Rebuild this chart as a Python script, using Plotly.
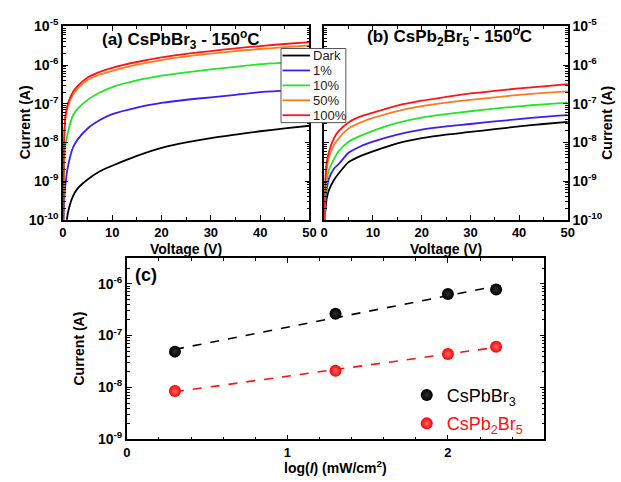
import numpy as np
import plotly.graph_objects as go

# ---------------- data ----------------
voltage = [0.05, 0.2, 0.5, 1, 2, 3, 5, 7.5, 10, 15, 20, 25, 30, 35, 40, 45, 50]
series_names = ["Dark", "1%", "10%", "50%", "100%"]
series_colors = ["#000000", "#3d1df5", "#22e622", "#ff7a1a", "#ff1414"]

a_dark = [2e-11, 3e-11, 5e-11, 1.5e-10, 4e-10, 6.5e-10, 1.1e-9, 1.8e-9, 2.5e-9, 4.5e-9, 7.2e-9, 1e-8, 1.3e-8, 1.6e-8, 1.95e-8, 2.3e-8, 2.7e-8]
a_1 = [3e-11, 2e-10, 8e-10, 2.3e-9, 7.2e-9, 1.2e-8, 2.3e-8, 3.8e-8, 5.4e-8, 8e-8, 1.05e-7, 1.27e-7, 1.47e-7, 1.7e-7, 2.0e-7, 2.2e-7, 2.4e-7]
a_10 = [5e-11, 1.5e-9, 8e-9, 1.8e-8, 4.9e-8, 7.5e-8, 1.26e-7, 1.95e-7, 2.7e-7, 4e-7, 5.3e-7, 6.5e-7, 7.7e-7, 9e-7, 1.05e-6, 1.15e-6, 1.25e-6]
a_50 = [5e-11, 6e-9, 4e-8, 8.5e-8, 1.7e-7, 2.5e-7, 4.1e-7, 5.7e-7, 7.1e-7, 1.02e-6, 1.35e-6, 1.67e-6, 1.98e-6, 2.3e-6, 2.6e-6, 2.9e-6, 3.2e-6]
a_100 = [5e-11, 8e-9, 5e-8, 1e-7, 2e-7, 2.9e-7, 4.8e-7, 6.7e-7, 8.5e-7, 1.2e-6, 1.58e-6, 1.95e-6, 2.3e-6, 2.7e-6, 3.1e-6, 3.5e-6, 3.9e-6]

b_dark = [5e-11, 1.5e-10, 3.5e-10, 6e-10, 1.07e-9, 1.6e-9, 3.1e-9, 4.5e-9, 5.9e-9, 9.5e-9, 1.29e-8, 1.6e-8, 1.87e-8, 2.2e-8, 2.6e-8, 3e-8, 3.4e-8]
b_1 = [5e-11, 2e-10, 6e-10, 1.2e-9, 2.1e-9, 2.8e-9, 5.4e-9, 8e-9, 1.05e-8, 1.6e-8, 2.15e-8, 2.6e-8, 3e-8, 3.5e-8, 4e-8, 4.6e-8, 5.1e-8]
b_10 = [5e-11, 3e-10, 1e-9, 2e-9, 3.7e-9, 6e-9, 1.05e-8, 1.5e-8, 2e-8, 3.2e-8, 4.4e-8, 5.4e-8, 6.4e-8, 7.5e-8, 8.6e-8, 9.7e-8, 1.07e-7]
b_50 = [5e-11, 6e-10, 2e-9, 4.2e-9, 8.7e-9, 1.3e-8, 2.3e-8, 3.3e-8, 4.3e-8, 6.5e-8, 8.7e-8, 1.07e-7, 1.26e-7, 1.47e-7, 1.7e-7, 1.9e-7, 2.1e-7]
b_100 = [5e-11, 1e-9, 3e-9, 5.9e-9, 1.3e-8, 2e-8, 3.3e-8, 4.7e-8, 5.9e-8, 9e-8, 1.2e-7, 1.5e-7, 1.85e-7, 2.15e-7, 2.5e-7, 2.8e-7, 3.2e-7]

log_intensity = [0.3, 1.3, 2.0, 2.3]
c_cspbbr3 = [4.9e-8, 2.63e-7, 6.3e-7, 7.7e-7]
c_cspb2br5 = [8.5e-9, 2.09e-8, 4.4e-8, 6.1e-8]

iv_ticks = [0, 10, 20, 30, 40, 50]
iv_yticks = [1e-10, 1e-9, 1e-8, 1e-7, 1e-6, 1e-5]
iv_yticktext = ["10<sup>-10</sup>", "10<sup>-9</sup>", "10<sup>-8</sup>", "10<sup>-7</sup>", "10<sup>-6</sup>", "10<sup>-5</sup>"]
c_xticks = [0, 1, 2]
c_yticks = [1e-9, 1e-8, 1e-7, 1e-6]
c_yticktext = ["10<sup>-9</sup>", "10<sup>-8</sup>", "10<sup>-7</sup>", "10<sup>-6</sup>"]

# ---------------- figure ----------------
W, H = 621, 482
FONT = "Liberation Sans, Arial, sans-serif"

def fx(p):
    return p / W

def fy(p):
    return 1 - p / H

fig = go.Figure()

for ys, name, col in zip([a_dark, a_1, a_10, a_50, a_100], series_names, series_colors):
    fig.add_trace(go.Scatter(x=voltage, y=ys, mode="lines", name=name,
                             line=dict(color=col, width=1.8, shape="spline", smoothing=0.6),
                             showlegend=False, xaxis="x", yaxis="y"))
for ys, name, col in zip([b_dark, b_1, b_10, b_50, b_100], series_names, series_colors):
    fig.add_trace(go.Scatter(x=voltage, y=ys, mode="lines", name=name,
                             line=dict(color=col, width=1.8, shape="spline", smoothing=0.6),
                             showlegend=False, xaxis="x2", yaxis="y2"))

# fit lines (panel c) derived from the data
for ys, col in [(c_cspbbr3, "#000000"), (c_cspb2br5, "#ff1010")]:
    k, b0 = np.polyfit(log_intensity, np.log10(ys), 1)
    xf = np.array([min(log_intensity), max(log_intensity)])
    fig.add_trace(go.Scatter(x=xf, y=10 ** (k * xf + b0), mode="lines",
                             line=dict(color=col, width=1.6, dash="dash"),
                             showlegend=False, xaxis="x3", yaxis="y3"))

fig.add_trace(go.Scatter(x=log_intensity, y=c_cspbbr3, mode="markers",
                         name="CsPbBr<sub>3</sub>", legend="legend2", legendgroup="g1",
                         marker=dict(color="#000000", size=12, line=dict(width=0),
                                     gradient=dict(type="radial", color="#2e2e2e")),
                         xaxis="x3", yaxis="y3"))
fig.add_trace(go.Scatter(x=log_intensity, y=c_cspb2br5, mode="markers",
                         name='<span style="color:#ff1010">CsPb<sub>2</sub>Br<sub>5</sub></span>',
                         legend="legend2", legendgroup="g2",
                         marker=dict(color="#ff0000", size=12, line=dict(width=0),
                                     gradient=dict(type="radial", color="#ff6a6a")),
                         xaxis="x3", yaxis="y3"))

minor_log = [m * 10.0 ** e for e in range(-11, -4) for m in range(2, 10)]

tickfont = dict(family=FONT, size=13, color="black", weight="bold")
common = dict(showline=True, linecolor="black", linewidth=1.5, mirror="allticks",
              ticks="inside", ticklen=5, tickwidth=1.2, tickcolor="black",
              showgrid=False, zeroline=False, tickfont=tickfont)

iv_x = dict(common, range=[0, 50], tickmode="array", tickvals=iv_ticks, ticklabelstandoff=0,
            minor=dict(ticks="inside", ticklen=3, dtick=5, tickcolor="black", showgrid=False))
iv_y = dict(common, type="log", range=[-10, -5], tickmode="array", tickvals=iv_yticks,
            ticktext=iv_yticktext, tickfont=dict(tickfont, size=14),
            minor=dict(ticks="inside", ticklen=3, tickvals=minor_log, tickcolor="black", showgrid=False))

fig.update_layout(
    width=W, height=H, margin=dict(l=0, r=0, t=0, b=0),
    paper_bgcolor="white", plot_bgcolor="white",
    font=dict(family=FONT, color="black"),
    xaxis=dict(iv_x, domain=[fx(60), fx(311)], anchor="y"),
    yaxis=dict(iv_y, domain=[fy(218), fy(17)], anchor="x"),
    xaxis2=dict(iv_x, domain=[fx(326), fx(574)], anchor="y2"),
    yaxis2=dict(iv_y, domain=[fy(218), fy(17)], anchor="x2", side="right"),
    xaxis3=dict(common, domain=[fx(125), fx(550)], anchor="y3", range=[0, 2.6],
                tickmode="array", tickvals=c_xticks, ticklabelstandoff=0,
                minor=dict(ticks="inside", ticklen=3, dtick=0.2, tickcolor="black", showgrid=False)),
    yaxis3=dict(common, type="log", domain=[fy(446), fy(258)], anchor="x3", range=[-9, -5.513],
                tickmode="array", tickvals=c_yticks, ticktext=c_yticktext, tickfont=dict(tickfont, size=14),
                minor=dict(ticks="inside", ticklen=3, tickvals=minor_log, tickcolor="black", showgrid=False)),
    legend2=dict(x=fx(410), y=fy(381), xanchor="left", yanchor="top",
                 bgcolor="rgba(0,0,0,0)", borderwidth=0, tracegroupgap=2,
                 font=dict(family=FONT, size=18, color="black")),
)

# legend for panels (a),(b)
shapes = [dict(type="rect", xref="paper", yref="paper", x0=fx(282), x1=fx(348), y0=fy(117), y1=fy(40),
               line=dict(color="#555555", width=1), fillcolor="white", layer="above")]
annots = []
for i, (name, col) in enumerate(zip(series_names, series_colors)):
    yy = 47.3 + i * 15.5
    shapes.append(dict(type="line", xref="paper", yref="paper", x0=fx(283.5), x1=fx(311.5),
                       y0=fy(yy), y1=fy(yy), line=dict(color=col, width=1.8), layer="above"))
    annots.append(dict(text=name, xref="paper", yref="paper", x=fx(313), y=fy(yy),
                       xanchor="left", yanchor="middle", showarrow=False,
                       font=dict(family=FONT, size=13, color="#222222")))

bold = dict(family=FONT, color="black", weight="bold")
titles = [
    dict(text="(a) CsPbBr<sub>3</sub> - 150<sup>o</sup>C", x=fx(180), y=fy(31), font=dict(bold, size=17)),
    dict(text="(b) CsPb<sub>2</sub>Br<sub>5</sub> - 150<sup>o</sup>C", x=fx(454), y=fy(28), font=dict(bold, size=17)),
    dict(text="(c)", x=fx(145), y=fy(275), font=dict(bold, size=18)),
    dict(text="Voltage (V)", x=fx(185.5), y=fy(248), font=dict(bold, size=14)),
    dict(text="Voltage (V)", x=fx(450), y=fy(248), font=dict(bold, size=14)),
    dict(text="Current (A)", x=fx(21), y=fy(117), textangle=-90, font=dict(bold, size=14)),
    dict(text="Current (A)", x=fx(614), y=fy(117), textangle=-90, font=dict(bold, size=14)),
    dict(text="Current (A)", x=fx(76), y=fy(352), textangle=-90, font=dict(bold, size=14)),
    dict(text="log(<i>I</i>) (mW/cm<sup>2</sup>)", x=fx(337.5), y=fy(475), font=dict(bold, size=14)),
]
for a in titles:
    a.update(xref="paper", yref="paper", showarrow=False, xanchor="center", yanchor="middle")

fig.update_layout(shapes=shapes, annotations=annots + titles)
fig.write_html("out.html")
